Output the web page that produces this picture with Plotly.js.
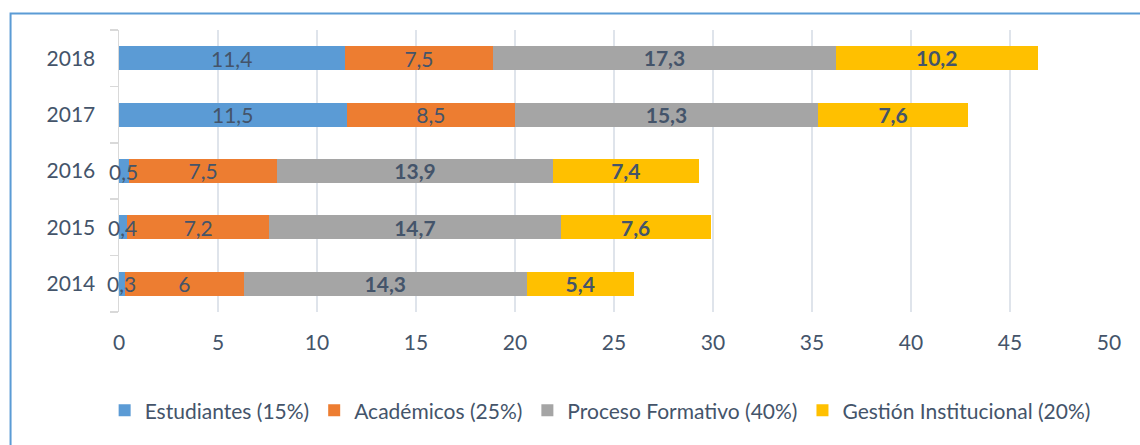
<!DOCTYPE html>
<html>
<head>
<meta charset="utf-8">
<script src="https://cdn.plot.ly/plotly-3.0.1.min.js"></script>
<style>
  html, body { margin: 0; padding: 0; background: #ffffff; }
  #chart { width: 1140px; height: 445px; }
</style>
</head>
<body>
<div id="chart"></div>
<script>
const years = ['2014', '2015', '2016', '2017', '2018'];
const estudiantes = [0.3, 0.4, 0.5, 11.5, 11.4];
const academicos = [6, 7.2, 7.5, 8.5, 7.5];
const procesoFormativo = [14.3, 14.7, 13.9, 15.3, 17.3];
const gestionInstitucional = [5.4, 7.6, 7.4, 7.6, 10.2];
const seriesNames = ['Estudiantes (15%)', 'Académicos (25%)', 'Proceso Formativo (40%)', 'Gestión Institucional (20%)'];
const xTicks = [0, 5, 10, 15, 20, 25, 30, 35, 40, 45, 50];

const FONT = 'Lato, "Open Sans", sans-serif';
const TXT = '#44546a';
const fmt = v => String(v).replace('.', ',');

const specs = [
  { vals: estudiantes, color: '#5b9bd5', bold: false, size: 21, labelsAsAnnotations: true },
  { vals: academicos, color: '#ed7d31', bold: false, size: 21 },
  { vals: procesoFormativo, color: '#a5a5a5', bold: true, size: 22 },
  { vals: gestionInstitucional, color: '#ffc000', bold: true, size: 22 }
];

const data = specs.map((s, i) => {
  const tr = {
    type: 'bar',
    orientation: 'h',
    name: seriesNames[i],
    y: years,
    x: s.vals,
    marker: { color: s.color, line: { width: 0 } },
    hoverinfo: 'skip'
  };
  if (s.labelsAsAnnotations) {
    tr.textposition = 'none';
  } else {
    tr.text = s.vals.map(fmt);
    tr.textposition = 'inside';
    tr.insidetextanchor = 'middle';
    tr.textangle = 0;
    tr.constraintext = 'none';
    tr.textfont = { family: FONT, size: s.size, color: TXT, weight: s.bold ? 'bold' : 'normal' };
  }
  return tr;
});

// Labels of the first series drawn on top (they overflow into the next segment).
// y given as category index so the numeric-looking year strings are not read as numbers.
const annotations = estudiantes.map((v, k) => ({
  x: v / 2, y: k, xref: 'x', yref: 'y',
  text: fmt(v), showarrow: false,
  xanchor: 'center', yanchor: 'middle',
  font: { family: FONT, size: 21, color: TXT }
}));

const layout = {
  width: 1140,
  height: 445,
  barmode: 'stack',
  bargap: 0.575,
  paper_bgcolor: '#ffffff',
  plot_bgcolor: '#ffffff',
  margin: { l: 118.5, r: 31, t: 30, b: 133, autoexpand: false },
  font: { family: FONT, color: TXT, size: 21 },
  uniformtext: { mode: 'show', minsize: 21 },
  showlegend: true,
  legend: {
    orientation: 'h',
    x: 0.486, xanchor: 'center',
    y: -0.35, yanchor: 'middle',
    font: { family: FONT, size: 21, color: TXT },
    itemwidth: 30,
    traceorder: 'normal'
  },
  annotations: annotations,
  xaxis: {
    range: [0, 50],
    tickvals: xTicks,
    ticktext: xTicks.map(String),
    showgrid: true,
    gridcolor: '#dfe4eb',
    gridwidth: 2,
    zeroline: false,
    showline: false,
    ticks: '',
    ticklabelstandoff: 16,
    tickfont: { family: FONT, size: 21, color: TXT },
    fixedrange: true
  },
  yaxis: {
    type: 'category',
    categoryorder: 'array',
    categoryarray: years,
    showline: true,
    linecolor: '#d9d9d9',
    linewidth: 1.5,
    ticks: 'outside',
    tickson: 'boundaries',
    ticklen: 8,
    tickcolor: '#d9d9d9',
    tickwidth: 1.5,
    ticklabelstandoff: 18,
    showgrid: false,
    zeroline: false,
    tickfont: { family: FONT, size: 21, color: TXT },
    fixedrange: true
  },
  shapes: [{
    type: 'rect', xref: 'paper', yref: 'paper',
    x0: (10 - 118.5) / 990.5, x1: 1.2,
    y0: -0.8, y1: 1 + (30 - 13.5) / 282,
    line: { color: '#5b9bd5', width: 2 },
    fillcolor: 'rgba(0,0,0,0)',
    layer: 'below'
  }]
};

Plotly.newPlot('chart', data, layout, { displayModeBar: false, staticPlot: true });
</script>
</body>
</html>
